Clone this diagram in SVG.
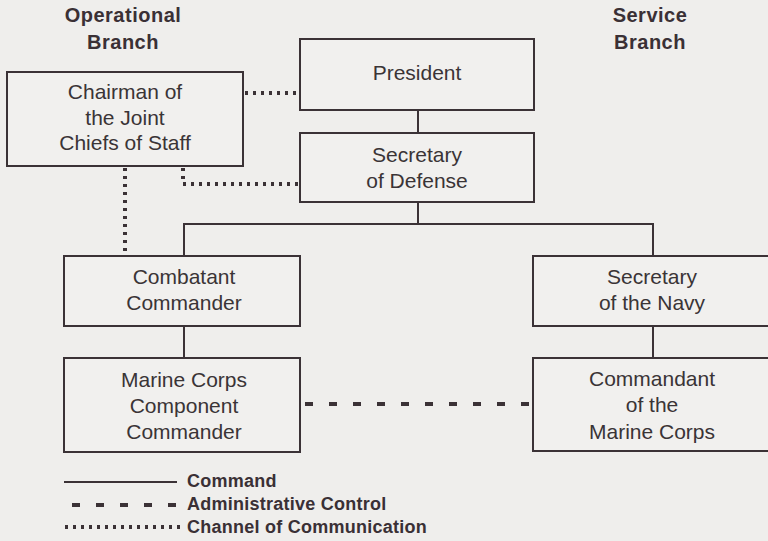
<svg xmlns="http://www.w3.org/2000/svg" width="768" height="541" viewBox="0 0 768 541">
<style>
.bg{fill:#efeeec}
.box{fill:#f1f0ee;stroke:#3b3236;stroke-width:2}
.t{font-family:"Liberation Sans",Arial,sans-serif;font-size:21px;fill:#3a3436;text-anchor:middle}
.h{font-family:"Liberation Sans",Arial,sans-serif;font-size:20px;font-weight:bold;fill:#3a3035;text-anchor:middle;letter-spacing:0.5px}
.lg{font-family:"Liberation Sans",Arial,sans-serif;font-size:18px;font-weight:bold;fill:#3a3035;letter-spacing:0.25px}
.cmd{fill:none;stroke:#3b3236;stroke-width:2}
.adm{fill:none;stroke:#3b3236;stroke-width:4;stroke-dasharray:8 16}
.com{fill:none;stroke:#3b3236;stroke-width:4;stroke-dasharray:3 5}
</style>
<rect class="bg" x="0" y="0" width="768" height="541"/>
<g id="headings">
<text class="h" x="123" y="22">Operational</text>
<text class="h" x="123" y="49">Branch</text>
<text class="h" x="650" y="22">Service</text>
<text class="h" x="650" y="49">Branch</text>
</g>
<g id="connectors">
<line class="cmd" x1="418" y1="110" x2="418" y2="133"/>
<polyline class="cmd" points="418,202 418,224"/>
<polyline class="cmd" points="184,256 184,224 653,224 653,256"/>
<line class="cmd" x1="184" y1="326" x2="184" y2="358"/>
<line class="cmd" x1="653" y1="326" x2="653" y2="358"/>
<line class="adm" x1="305" y1="404" x2="530" y2="404"/>
<line class="com" x1="245" y1="93" x2="300" y2="93"/>
<line class="com" x1="125" y1="168" x2="125" y2="256"/>
<polyline class="com" points="183,168 183,184 300,184"/>
</g>
<g id="chairman">
<rect class="box" x="7" y="72" width="236" height="94"/>
<text class="t" x="125" y="99">Chairman of</text>
<text class="t" x="125" y="125">the Joint</text>
<text class="t" x="125" y="150">Chiefs of Staff</text>
</g>
<g id="president">
<rect class="box" x="300" y="39" width="234" height="71"/>
<text class="t" x="417" y="80">President</text>
</g>
<g id="secdef">
<rect class="box" x="300" y="133" width="234" height="69"/>
<text class="t" x="417" y="162">Secretary</text>
<text class="t" x="417" y="188">of Defense</text>
</g>
<g id="combatant">
<rect class="box" x="64" y="256" width="236" height="70"/>
<text class="t" x="184" y="284">Combatant</text>
<text class="t" x="184" y="310">Commander</text>
</g>
<g id="secnav">
<rect class="box" x="533" y="256" width="236" height="70"/>
<text class="t" x="652" y="284">Secretary</text>
<text class="t" x="652" y="310">of the Navy</text>
</g>
<g id="component">
<rect class="box" x="64" y="358" width="236" height="94"/>
<text class="t" x="184" y="387">Marine Corps</text>
<text class="t" x="184" y="413">Component</text>
<text class="t" x="184" y="439">Commander</text>
</g>
<g id="commandant">
<rect class="box" x="533" y="358" width="236" height="93"/>
<text class="t" x="652" y="386">Commandant</text>
<text class="t" x="652" y="412">of the</text>
<text class="t" x="652" y="439">Marine Corps</text>
</g>
<g id="legend">
<line class="cmd" x1="64" y1="482" x2="177" y2="482"/>
<text class="lg" x="187" y="487">Command</text>
<line class="adm" x1="72" y1="505" x2="180" y2="505"/>
<text class="lg" x="187" y="510">Administrative Control</text>
<line class="com" x1="65" y1="527" x2="180" y2="527"/>
<text class="lg" x="187" y="533">Channel of Communication</text>
</g>
</svg>
